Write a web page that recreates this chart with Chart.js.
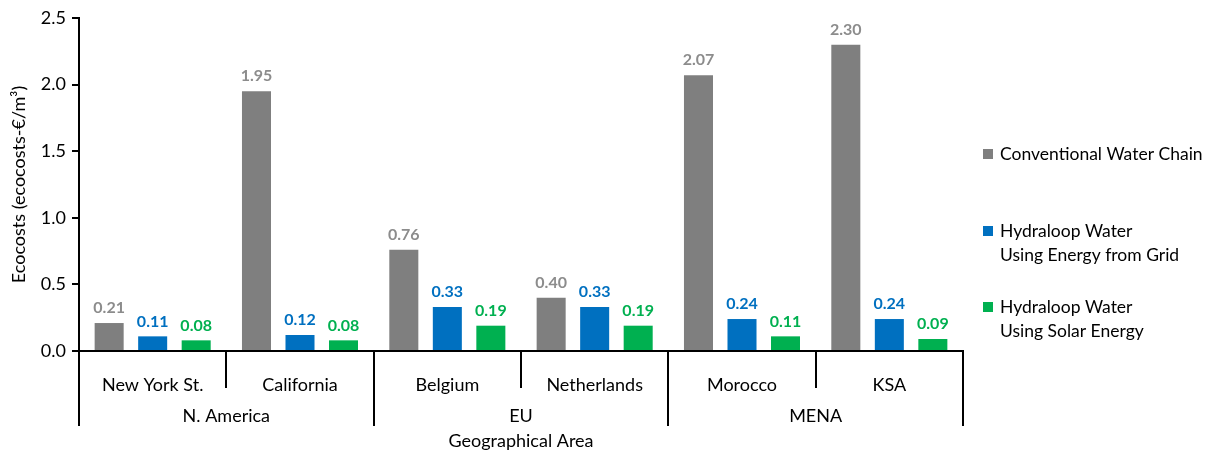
<!DOCTYPE html>
<html>
<head>
<meta charset="utf-8">
<script src="https://cdn.jsdelivr.net/npm/chart.js@4.4.0/dist/chart.umd.min.js"></script>
<style>
  html, body { margin: 0; padding: 0; background: #fff; }
  #wrap { width: 1211px; height: 453px; position: relative; }
</style>
</head>
<body>
<div id="wrap"><canvas id="myChart"></canvas></div>
<script>
const countries = ['New York St.', 'California', 'Belgium', 'Netherlands', 'Morocco', 'KSA'];
const regions = [
    { name: 'N. America', from: 0, to: 1 },
    { name: 'EU', from: 2, to: 3 },
    { name: 'MENA', from: 4, to: 5 }
];
const conventional = [0.21, 1.95, 0.76, 0.40, 2.07, 2.30];
const hydraloopGrid = [0.11, 0.12, 0.33, 0.33, 0.24, 0.24];
const hydraloopSolar = [0.08, 0.08, 0.19, 0.19, 0.11, 0.09];
const seriesNames = [
    ['Conventional Water Chain'],
    ['Hydraloop Water', 'Using Energy from Grid'],
    ['Hydraloop Water', 'Using Solar Energy']
];
const barColors = ['#7f7f7f', '#0070c0', '#00b050'];
const labelColors = ['#8c8c8c', '#0070c0', '#00b050'];

const FONT = 'Lato, "Liberation Sans", sans-serif';

// value labels above bars
const valueLabels = {
    id: 'valueLabels',
    afterDatasetsDraw(chart) {
        const ctx = chart.ctx;
        ctx.save();
        ctx.font = 'bold 16px ' + FONT;
        ctx.textAlign = 'center';
        ctx.textBaseline = 'bottom';
        chart.data.datasets.forEach((ds, i) => {
            chart.getDatasetMeta(i).data.forEach((bar, j) => {
                ctx.fillStyle = labelColors[i];
                ctx.fillText(ds.data[j].toFixed(2), bar.x, bar.y - 7);
            });
        });
        ctx.restore();
    }
};

// two-level category axis: dividers + region names
const groupAxis = {
    id: 'groupAxis',
    afterDraw(chart) {
        const ctx = chart.ctx;
        const x = chart.scales.x;
        const area = chart.chartArea;
        const w = (x.right - x.left) / countries.length;
        const y0 = area.bottom;
        ctx.save();
        ctx.strokeStyle = '#000';
        ctx.lineWidth = 2;
        for (let i = 0; i <= countries.length; i++) {
            const px = Math.round(x.left + i * w);
            const isGroupEdge = i === 0 || regions.some(r => r.to + 1 === i);
            ctx.beginPath();
            ctx.moveTo(px, y0);
            ctx.lineTo(px, isGroupEdge ? y0 + 75 : y0 + 37);
            ctx.stroke();
        }
        ctx.fillStyle = '#000';
        ctx.font = '18px ' + FONT;
        ctx.textAlign = 'center';
        ctx.textBaseline = 'middle';
        regions.forEach(r => {
            const cx = x.left + (r.from + r.to + 1) / 2 * w;
            ctx.fillText(r.name, cx, y0 + 65);
        });
        ctx.restore();
    }
};

// legend on the right with wrapped names
const sideLegend = {
    id: 'sideLegend',
    afterDraw(chart) {
        const ctx = chart.ctx;
        const rows = [154, 231, 307];
        ctx.save();
        ctx.font = '17.5px ' + FONT;
        ctx.textBaseline = 'middle';
        ctx.textAlign = 'left';
        seriesNames.forEach((lines, i) => {
            ctx.fillStyle = barColors[i];
            ctx.fillRect(983, rows[i] - 5, 10, 10);
            ctx.fillStyle = '#000';
            lines.forEach((t, k) => ctx.fillText(t, 1000, rows[i] + k * 24));
        });
        ctx.restore();
    }
};

new Chart(document.getElementById('myChart'), {
    type: 'bar',
    data: {
        labels: countries,
        datasets: [conventional, hydraloopGrid, hydraloopSolar].map((d, i) => ({
            label: seriesNames[i].join(' '),
            data: d,
            backgroundColor: barColors[i],
            borderWidth: 0,
            categoryPercentage: 0.886,
            barPercentage: 0.667
        }))
    },
    options: {
        responsive: true,
        maintainAspectRatio: false,
        animation: false,
        layout: { padding: { top: 18, right: 248, left: 0, bottom: 0 } },
        scales: {
            y: {
                min: 0,
                max: 2.5,
                ticks: {
                    stepSize: 0.5,
                    color: '#000',
                    font: { family: FONT, size: 18 },
                    padding: 6,
                    callback: v => v.toFixed(1)
                },
                grid: { drawOnChartArea: false, drawTicks: true, tickLength: 7, color: '#000', lineWidth: 2 },
                border: { color: '#000', width: 2 },
                title: {
                    display: true,
                    text: 'Ecocosts (ecocosts-€/m³)',
                    color: '#000',
                    font: { family: FONT, size: 18 },
                    padding: { top: 8, bottom: 0 }
                },
                afterFit: s => { s.width = 79; }
            },
            x: {
                grid: { display: false },
                border: { color: '#000', width: 2 },
                ticks: {
                    color: '#000',
                    font: { family: FONT, size: 18 },
                    padding: 15,
                    maxRotation: 0
                },
                title: {
                    display: true,
                    text: 'Geographical Area',
                    color: '#000',
                    font: { family: FONT, size: 18 },
                    padding: { top: 0, bottom: 1 }
                },
                afterFit: s => { s.height = 102; }
            }
        },
        plugins: {
            legend: { display: false },
            tooltip: { enabled: false }
        }
    },
    plugins: [valueLabels, groupAxis, sideLegend]
});
</script>
</body>
</html>
